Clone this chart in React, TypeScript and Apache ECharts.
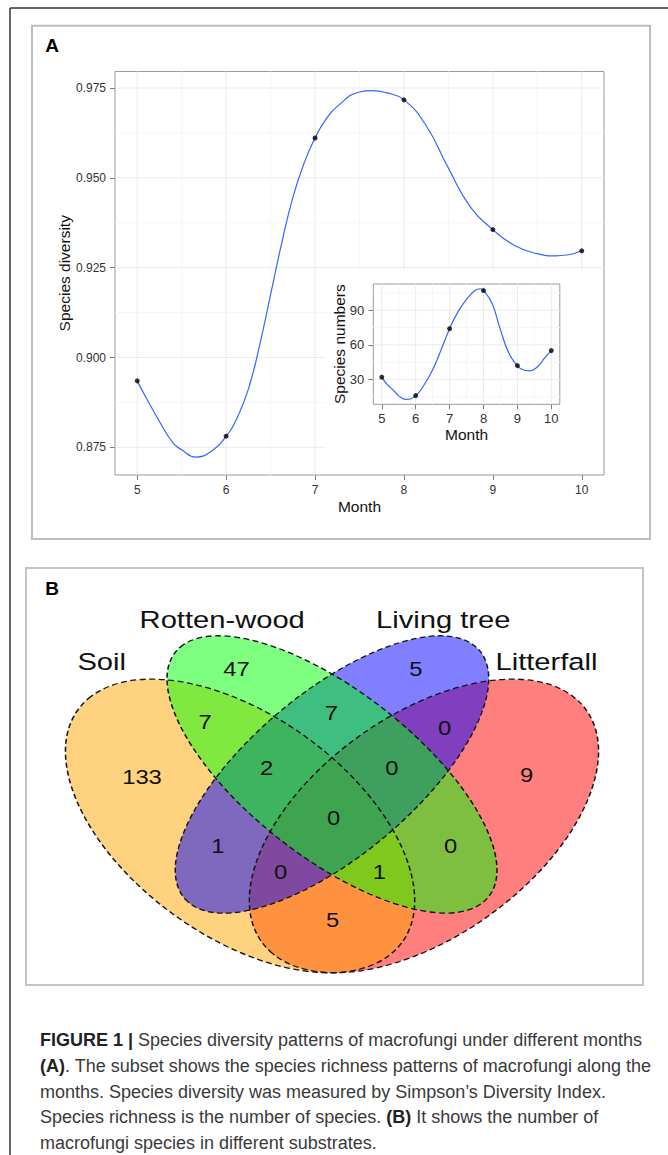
import React, { useEffect, useRef } from "react";
import * as echarts from "echarts";

// ---------- Panel A data ----------
const months = [5, 6, 7, 8, 9, 10];
const diversity = [0.8935, 0.8781, 0.9611, 0.9717, 0.9356, 0.9297];
const speciesNumbers = [32, 16, 74, 107, 42, 55];

// fitted curve
const diversityCurveMonths = [5, 5.1, 5.25, 5.4, 5.5, 5.66, 5.85, 6, 6.12, 6.25, 6.38, 6.5, 6.62, 6.75, 6.88, 7, 7.12, 7.25, 7.5, 7.64, 7.8, 8, 8.25, 8.5, 8.75, 9, 9.25, 9.5, 9.7, 9.85, 10];
const diversityCurve = [0.8935, 0.8888, 0.8822, 0.8763, 0.8743, 0.8723, 0.8742, 0.8781, 0.883, 0.8912, 0.9038, 0.9175, 0.9313, 0.9445, 0.9543, 0.9611, 0.9662, 0.9699, 0.9739, 0.9743, 0.9737, 0.9717, 0.9645, 0.9527, 0.9418, 0.9356, 0.9311, 0.9289, 0.9283, 0.9286, 0.9297];
const numbersCurveMonths = [5, 5.15, 5.35, 5.5, 5.72, 6, 6.25, 6.5, 6.75, 7, 7.25, 7.5, 7.75, 7.9, 8, 8.25, 8.5, 8.75, 9, 9.15, 9.35, 9.6, 9.8, 10];
const numbersCurve = [32, 26, 20.5, 15.8, 12.7, 16, 25.4, 38.4, 55.7, 74, 88.8, 99.5, 107, 108.6, 107, 96, 73, 52.8, 42, 38.6, 37.5, 41.2, 48.5, 55];

// ticks
const monthTicks = [5, 6, 7, 8, 9, 10];
const monthMinor = [5.5, 6.5, 7.5, 8.5, 9.5];
const diversityTicks = [0.875, 0.9, 0.925, 0.95, 0.975];
const diversityMinor = [0.8875, 0.9125, 0.9375, 0.9625];
const numberTicks = [30, 60, 90];
const numberMinor = [15, 45, 75, 105];

// ---------- Panel B data ----------
const vennSets = ["Soil", "Rotten-wood", "Living tree", "Litterfall"];
const vennRegions = ["S", "R", "L", "F", "SR", "RL", "LF", "SRL", "RLF", "SRLF", "SL", "SLF", "SRF", "RF", "SF"];
const vennCounts = [133, 47, 5, 9, 7, 7, 0, 2, 0, 0, 1, 0, 1, 0, 5];

const captionLines = [
  "{b|FIGURE 1 |} Species diversity patterns of macrofungi under different months",
  "{b|(A)}. The subset shows the species richness patterns of macrofungi along the",
  "months. Species diversity was measured by Simpson\u2019s Diversity Index.",
  "Species richness is the number of species. {b|(B)} It shows the number of",
  "macrofungi species in different substrates.",
];

// ---------- layout ----------
const FONT = "Liberation Sans, Arial, Helvetica, sans-serif";
const mainRange = { xMin: 4.75, xMax: 10.25, yMin: 0.8673, yMax: 0.9796 };
const insetRange = { xMin: 4.75, xMax: 10.25, yMin: 8.5, yMax: 112.7 };
const insetViewport = { monthFrom: 7.12, valueBelow: 0.9245 };

// Venn layout (group coordinates, stretched horizontally by VENN_SX)
const VENN_CX = 332;
const VENN_CY = 810.5;
const VENN_SX = 1.19;
const VENN_U = 515;
const vennEllipses: Record<string, { u: number; v: number; a: number; b: number; rot: number; sx: number; fill: string }> = {
  Soil: { u: 0.35, v: 0.47, a: 0.35, b: 0.2, rot: -Math.PI / 4, sx: 1, fill: "rgba(255,165,0,0.5)" },
  "Rotten-wood": { u: 0.5, v: 0.57, a: 0.35, b: 0.15, rot: -Math.PI / 4, sx: 1, fill: "rgba(0,255,0,0.5)" },
  "Living tree": { u: 0.5, v: 0.57, a: 0.35, b: 0.15, rot: Math.PI / 4, sx: 0.95, fill: "rgba(0,0,255,0.5)" },
  Litterfall: { u: 0.65, v: 0.47, a: 0.35, b: 0.2, rot: Math.PI / 4, sx: 1, fill: "rgba(255,0,0,0.5)" },
};
const fillOrder = ["Litterfall", "Soil", "Living tree", "Rotten-wood"];
// screen positions of labels
const setLabelPos: Record<string, [number, number]> = {
  Soil: [101.7, 661.7],
  "Rotten-wood": [222.2, 620],
  "Living tree": [443.2, 620],
  Litterfall: [546.5, 661.7],
};
const regionLabelPos: Record<string, [number, number]> = {
  S: [142, 776.7],
  R: [236.5, 669.5],
  L: [415.8, 668.8],
  F: [526.7, 775.5],
  SR: [205.1, 721.7],
  RL: [331.3, 713.3],
  LF: [444.7, 728],
  SRL: [266.6, 768.3],
  RLF: [391.8, 768.3],
  SRLF: [333.7, 818.3],
  SL: [217.8, 845.8],
  SLF: [280.5, 872],
  SRF: [379.3, 871.7],
  RF: [450.5, 845.8],
  SF: [332.5, 920],
};

function toGroup(p: [number, number]): [number, number] {
  return [(p[0] - VENN_CX) / VENN_SX, p[1] - VENN_CY];
}

function gridSeries(
  axisIndex: number, z: number,
  hMajor: number[], hMinor: number[], vMajor: number[], vMinor: number[],
  r: { xMin: number; xMax: number; yMin: number; yMax: number },
  cut?: { monthFrom: number; valueBelow: number }
) {
  const out: any[] = [];
  const mk = (pts: number[][], color: string) => ({
    type: "line", xAxisIndex: axisIndex, yAxisIndex: axisIndex, z, silent: true,
    data: pts, symbol: "none", showSymbol: false,
    lineStyle: { color, width: 1 }, emphasis: { disabled: true }, tooltip: { show: false },
  });
  const h = (v: number, color: string) => {
    const xEnd = cut && v < cut.valueBelow ? cut.monthFrom : r.xMax;
    out.push(mk([[r.xMin, v], [xEnd, v]], color));
  };
  const vl = (m: number, color: string) => {
    const yEnd = cut && m > cut.monthFrom ? cut.valueBelow : r.yMin;
    out.push(mk([[m, r.yMax], [m, yEnd]], color));
  };
  hMinor.forEach((v) => h(v, "#f6f6f6"));
  vMinor.forEach((v) => vl(v, "#f6f6f6"));
  hMajor.forEach((v) => h(v, "#ebebeb"));
  vMajor.forEach((v) => vl(v, "#ebebeb"));
  return out;
}

function buildOption() {
  const tickStyle = { color: "#7f7f7f", width: 1 };
  const vennChildren: any[] = [];
  const ellipseEl = (name: string, style: any) => {
    const e = vennEllipses[name];
    return {
      type: "group",
      x: (e.u - 0.5) * VENN_U,
      y: -(e.v - 0.5) * VENN_U,
      scaleX: e.sx,
      children: [
        {
          type: "ellipse",
          rotation: e.rot,
          shape: { cx: 0, cy: 0, rx: e.a * VENN_U, ry: e.b * VENN_U },
          style,
          silent: true,
        },
      ],
    };
  };
  fillOrder.forEach((name) => {
    vennChildren.push(ellipseEl(name, { fill: vennEllipses[name].fill, stroke: "none" }));
  });
  vennSets.forEach((name) => {
    vennChildren.push(ellipseEl(name, { fill: "none", stroke: "#151515", lineWidth: 1.3, lineDash: [5, 3] }));
  });
  vennRegions.forEach((r, i) => {
    const [gx, gy] = toGroup(regionLabelPos[r]);
    vennChildren.push({
      type: "text",
      x: gx,
      y: gy,
      style: {
        text: String(vennCounts[i]),
        fontSize: 20,
        fontFamily: FONT,
        fill: "#111",
        align: "center",
        verticalAlign: "middle",
        textAlign: "center",
        textVerticalAlign: "middle",
      },
    });
  });
  vennSets.forEach((name) => {
    const [gx, gy] = toGroup(setLabelPos[name]);
    vennChildren.push({
      type: "text",
      x: gx,
      y: gy,
      style: {
        text: name,
        fontSize: 24.5,
        fontFamily: FONT,
        fill: "#111",
        align: "center",
        verticalAlign: "middle",
        textAlign: "center",
        textVerticalAlign: "middle",
      },
    });
  });

  const captionEls = captionLines.map((t, i) => ({
    type: "text",
    x: 40,
    y: 1040 + i * 25.8,
    style: {
      text: t,
      fontSize: 18,
      fontFamily: FONT,
      fill: "#3a3a3a",
      align: "left",
      verticalAlign: "middle",
      textAlign: "left",
      textVerticalAlign: "middle",
      rich: { b: { fontWeight: "bold", fontSize: 18, fontFamily: FONT, fill: "#222" } },
    },
  }));

  return {
    animation: false,
    backgroundColor: "#ffffff",
    textStyle: { fontFamily: FONT },
    grid: [
      { left: 115, top: 71.5, width: 489, height: 403.5, show: true, borderColor: "#9a9a9a", borderWidth: 1, backgroundColor: "#fff", outerBoundsMode: "none", containLabel: false },
      { left: 373.3, top: 284, width: 186.5, height: 120.3, show: true, borderColor: "#9a9a9a", borderWidth: 1, backgroundColor: "#fff", outerBoundsMode: "none", containLabel: false, z: 5 },
    ],
    xAxis: [
      {
        gridIndex: 0, type: "value", min: mainRange.xMin, max: mainRange.xMax,
        axisLine: { show: false },
        axisTick: { show: true, customValues: monthTicks, length: 5, lineStyle: tickStyle },
        axisLabel: { customValues: monthTicks, fontSize: 12, color: "#333", margin: 9 },
        splitLine: { show: false },
        name: "Month", nameLocation: "middle", nameGap: 23, nameMoveOverlap: false,
        nameTextStyle: { fontSize: 15.5, color: "#111" },
      },
      {
        gridIndex: 1, type: "value", min: insetRange.xMin, max: insetRange.xMax, z: 5,
        axisLine: { show: false },
        axisTick: { show: true, customValues: monthTicks, length: 5, lineStyle: tickStyle },
        axisLabel: { customValues: monthTicks, fontSize: 13, color: "#333", margin: 8 },
        splitLine: { show: false },
        name: "Month", nameLocation: "middle", nameGap: 22, nameMoveOverlap: false,
        nameTextStyle: { fontSize: 15.5, color: "#111" },
      },
    ],
    yAxis: [
      {
        gridIndex: 0, type: "value", min: mainRange.yMin, max: mainRange.yMax,
        axisLine: { show: false },
        axisTick: { show: true, customValues: diversityTicks, length: 5, lineStyle: tickStyle },
        axisLabel: { customValues: diversityTicks, fontSize: 12, color: "#333", margin: 9, formatter: (v: number) => v.toFixed(3) },
        splitLine: { show: false },
        name: "Species diversity", nameLocation: "middle", nameGap: 43, nameMoveOverlap: false,
        nameTextStyle: { fontSize: 15.5, color: "#111" },
      },
      {
        gridIndex: 1, type: "value", min: insetRange.yMin, max: insetRange.yMax, z: 5,
        axisLine: { show: false },
        axisTick: { show: true, customValues: numberTicks, length: 5, lineStyle: tickStyle },
        axisLabel: { customValues: numberTicks, fontSize: 13, color: "#333", margin: 9 },
        splitLine: { show: false },
        name: "Species numbers", nameLocation: "middle", nameGap: 26, nameMoveOverlap: false,
        nameTextStyle: { fontSize: 15.5, color: "#111" },
      },
    ],
    series: [
      ...gridSeries(0, 1, diversityTicks, diversityMinor, monthTicks, monthMinor, mainRange, insetViewport),
      {
        type: "line", xAxisIndex: 0, yAxisIndex: 0, z: 3,
        data: diversityCurveMonths.map((m, i) => [m, diversityCurve[i]]),
        smooth: 0.5, showSymbol: false, symbol: "none",
        lineStyle: { color: "#3366FF", width: 1.2 },
      },
      {
        type: "scatter", xAxisIndex: 0, yAxisIndex: 0, z: 4,
        data: months.map((m, i) => [m, diversity[i]]),
        symbolSize: 5, itemStyle: { color: "#000" },
      },
      ...gridSeries(1, 6, numberTicks, numberMinor, monthTicks, monthMinor, insetRange),
      {
        type: "line", xAxisIndex: 1, yAxisIndex: 1, z: 7,
        data: numbersCurveMonths.map((m, i) => [m, numbersCurve[i]]),
        smooth: 0.5, showSymbol: false, symbol: "none",
        lineStyle: { color: "#3366FF", width: 1.2 },
      },
      {
        type: "scatter", xAxisIndex: 1, yAxisIndex: 1, z: 8,
        data: months.map((m, i) => [m, speciesNumbers[i]]),
        symbolSize: 5, itemStyle: { color: "#000" },
      },
    ],
    graphic: [
      { type: "line", shape: { x1: 10, y1: 8, x2: 668, y2: 8 }, style: { stroke: "#333", lineWidth: 1.5 }, silent: true },
      { type: "line", shape: { x1: 10, y1: 8, x2: 10, y2: 1155 }, style: { stroke: "#333", lineWidth: 1.5 }, silent: true },
      { type: "rect", shape: { x: 32, y: 25.7, width: 618, height: 513.3 }, style: { fill: "none", stroke: "#bdbdbd", lineWidth: 2 }, silent: true },
      { type: "rect", shape: { x: 26, y: 568, width: 617, height: 417 }, style: { fill: "none", stroke: "#c4c4c4", lineWidth: 2 }, silent: true },
      { type: "text", x: 52, y: 45, style: { text: "A", fontSize: 19, fontWeight: "bold", fontFamily: FONT, fill: "#000", align: "center", verticalAlign: "middle", textAlign: "center", textVerticalAlign: "middle" } },
      { type: "text", x: 52, y: 588.5, style: { text: "B", fontSize: 19, fontWeight: "bold", fontFamily: FONT, fill: "#000", align: "center", verticalAlign: "middle", textAlign: "center", textVerticalAlign: "middle" } },
      { type: "group", x: VENN_CX, y: VENN_CY, scaleX: VENN_SX, scaleY: 1, children: vennChildren },
      ...captionEls,
    ],
  };
}

export default function App() {
  const ref = useRef<HTMLDivElement>(null);
  useEffect(() => {
    if (!ref.current) return;
    const chart = echarts.init(ref.current, null, { renderer: "svg" });
    chart.setOption(buildOption() as any);
    return () => {
      chart.dispose();
    };
  }, []);
  return <div ref={ref} style={{ position: "absolute", left: 0, top: 0, width: 668, height: 1155 }} />;
}
